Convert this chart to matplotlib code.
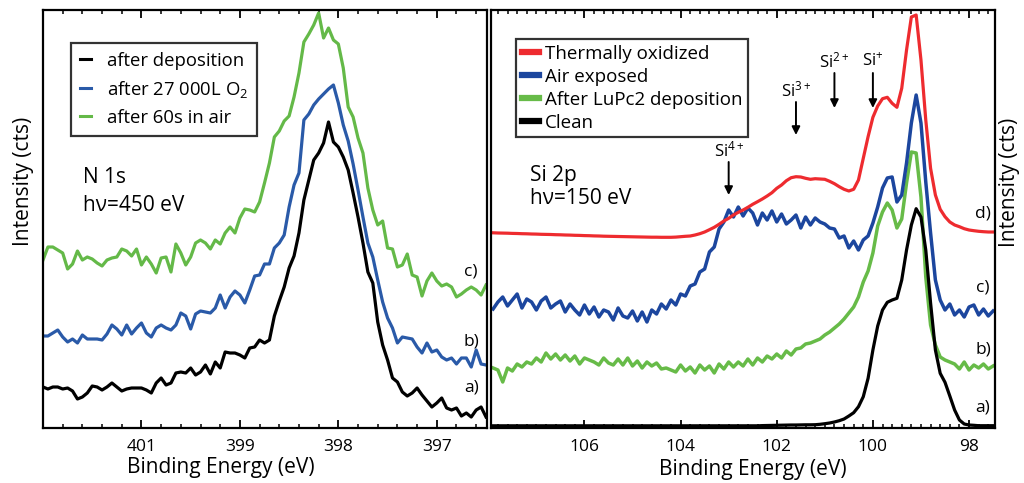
import numpy as np
import matplotlib
matplotlib.use("Agg")
import matplotlib.pyplot as plt
from matplotlib.ticker import MultipleLocator

plt.rcParams['font.family'] = ['Open Sans', 'DejaVu Sans']
plt.rcParams['mathtext.fontset'] = 'custom'
plt.rcParams['mathtext.rm'] = 'Open Sans'
plt.rcParams['mathtext.it'] = 'Open Sans:italic'

# ---- N 1s panel: spectra sampled every 0.05 eV starting at 401.0 eV ----
n1s_start, n1s_step = 401.0, 0.05
n1s_deposition = [41, 39, 41, 41, 39, 40, 37, 29, 31, 35, 42, 41, 38, 41, 45, 41, 37, 39, 40, 40,
                  40, 38, 35, 45, 50, 43, 45, 55, 56, 55, 60, 53, 56, 63, 54, 66, 60, 76, 75, 75,
                  73, 70, 80, 81, 88, 85, 88, 112, 127, 141, 160, 172, 195, 228, 248, 268, 275, 285, 306, 286,
                  281, 271, 258, 235, 211, 185, 156, 145, 106, 83, 68, 50, 46, 36, 32, 35, 40, 33, 27, 21,
                  25, 30, 20, 18, 20, 12, 15, 11, 18, 21, 11]
n1s_o2 = [92, 92, 95, 98, 91, 86, 89, 85, 93, 89, 89, 89, 88, 94, 103, 99, 93, 103, 94, 100,
          105, 95, 91, 100, 103, 100, 98, 103, 115, 112, 99, 114, 117, 116, 115, 120, 133, 120, 131, 137,
          133, 125, 138, 152, 153, 164, 164, 180, 185, 193, 221, 243, 255, 308, 314, 323, 329, 334, 339, 343,
          325, 303, 287, 264, 238, 211, 185, 171, 148, 126, 110, 100, 85, 91, 90, 89, 81, 75, 85, 76,
          78, 71, 68, 70, 64, 70, 70, 61, 78, 64, 63]
n1s_air = [168, 181, 181, 178, 175, 159, 164, 177, 168, 171, 169, 165, 162, 168, 170, 171, 179, 177, 172, 179,
           163, 171, 164, 155, 170, 171, 156, 184, 175, 163, 171, 185, 188, 185, 179, 188, 184, 195, 201, 195,
           210, 219, 218, 216, 226, 245, 265, 291, 297, 307, 312, 331, 355, 386, 394, 403, 415, 390, 400, 388,
           384, 360, 321, 311, 290, 275, 240, 218, 203, 207, 180, 179, 161, 163, 174, 153, 151, 132, 147, 155,
           147, 142, 144, 141, 131, 134, 138, 141, 138, 133, 143]
n1s_ticks = [400, 399, 398, 397]
n1s_ticklabels = ['401', '399', '398', '397']

# ---- Si 2p panel: spectra sampled every 0.1 eV starting at 107.9 eV ----
si_start, si_step = 107.9, 0.1
si_thermal = [195.2, 195.0, 194.9, 194.8, 194.6, 194.5, 194.3, 194.2, 194.0, 193.9, 193.7, 193.6, 193.5, 193.3,
              193.2, 193.0, 192.9, 192.7, 192.6, 192.4, 192.3, 192.1, 192.0, 191.8, 191.7, 191.6, 191.5, 191.4,
              191.3, 191.2, 191.1, 191.0, 190.9, 190.8,
              190.8, 190.7, 190.7, 190.7, 190.9, 191.3, 191.7, 192.0, 193.0, 194.3, 196.0, 198.3, 200.7, 203.7,
              207.0, 209.7, 213.0, 215.7, 218.0, 220.7, 223.7, 226.3, 229.0, 232.0, 235.3, 239.7, 243.0, 247.3,
              250.3, 251.3, 251.0, 249.7, 248.7,
              249.3, 249.0, 248.7, 246.7, 244.3, 241.3, 238.7, 237.0, 238.7, 248.0, 269.7, 291.3, 310.7, 322.0,
              329.3, 330.7, 324.7, 320.7, 339.7, 378.0, 411.0, 413.0, 368.0, 308.0, 259.7, 233.0, 218.7, 211.3,
              206.0, 203.0, 201.3, 199.3, 198.0, 197.3, 196.7, 196.3, 196.0, 196.0]
si_air = [119, 126, 131, 122, 128, 134, 120, 129, 126, 118, 127, 131, 120, 124, 127, 116, 124, 118, 113, 123,
          114, 121, 111, 118, 116, 108, 120, 112, 110, 117, 107, 116, 106, 118,
          114, 124, 119, 128, 123, 134, 132, 142, 144, 156, 159, 176, 181, 199, 206, 218, 211, 221, 212, 220,
          215, 203, 215, 208, 217, 206, 214, 204, 208, 213, 200, 211, 203,
          210, 206, 204, 200, 199, 190, 192, 180, 187, 178, 188, 192, 205, 221, 240, 250, 251, 226, 233, 265,
          305, 333, 305, 246, 195, 148, 128, 118, 124, 113, 118, 111, 121, 123, 113, 119, 112, 117]
si_lupc2 = [60, 58, 46, 60, 57, 64, 61, 66, 64, 70, 66, 75, 69, 74, 68, 73, 67, 72, 64, 70,
            68, 66, 63, 70, 65, 63, 69, 63, 70, 62, 67, 60, 66, 62,
            65, 59, 60, 58, 56, 63, 57, 61, 55, 63, 58, 62, 55, 64, 59, 66, 61, 66, 62, 69,
            63, 70, 66, 72, 69, 74, 70, 77, 73, 79, 80, 84, 85,
            87, 89, 93, 96, 100, 104, 109, 115, 121, 131, 146, 157, 175, 202, 216, 225, 218, 200, 209, 245,
            276, 275, 231, 151, 103, 83, 71, 68, 66, 64, 59, 66, 58, 63, 60, 64, 59, 62]
si_clean = [2.2] * 56 + [2.4, 2.5, 2.6, 2.7, 2.8, 2.9, 3.0, 3.0, 3.1, 3.2, 3.2,
                         3.3, 3.7, 4.3, 5.0, 6.0, 7.3, 9.0, 12.0, 15.3, 21.3, 31.3, 49.7, 78.0, 102.0,
                         118.0, 125.7, 128.0, 129.7, 148.0, 178.0, 203.0, 219.3, 211.0, 178.0, 125.0, 78.0,
                         54.7, 45.7, 32.0, 18.0, 8.0, 4.0, 3.0, 2.7, 2.3, 2.3, 2.3, 2.3]
si_ticks = [106, 104, 102, 100, 98]
si_states = ['Si$^{4+}$', 'Si$^{3+}$', 'Si$^{2+}$', 'Si$^{+}$']
si_state_energy = [103.0, 101.6, 100.8, 100.0]
si_arrow_top = [266, 326, 355, 355]
si_arrow_tip = [233, 293, 320, 320]

black = '#000000'
blue_l = '#2a5aa8'
green_l = '#64b948'
red = '#ee2b2f'
blue_r = '#1c469e'
green_r = '#67bb48'

e_n1s = n1s_start - n1s_step * np.arange(len(n1s_deposition))
e_si = si_start - si_step * np.arange(len(si_thermal))

fig = plt.figure(figsize=(10.24, 4.83), dpi=100)
ax1 = fig.add_axes([43 / 1024, 55 / 483, 444 / 1024, 418 / 483])
ax2 = fig.add_axes([490.7 / 1024, 55 / 483, 504.3 / 1024, 418 / 483])

lw = 2.3
ax1.plot(e_n1s, n1s_air, color=green_l, lw=lw, label='after 60s in air')
ax1.plot(e_n1s, n1s_o2, color=blue_l, lw=lw, label='after 27 000L O$_2$')
ax1.plot(e_n1s, n1s_deposition, color=black, lw=lw, label='after deposition')
ax1.set_xlim(401.0, 396.49)
ax1.set_xticks(n1s_ticks)
ax1.set_xticklabels(n1s_ticklabels)

ax2.plot(e_si, si_lupc2, color=green_r, lw=2.5, label='After LuPc2 deposition')
ax2.plot(e_si, si_air, color=blue_r, lw=2.5, label='Air exposed')
ax2.plot(e_si, si_clean, color=black, lw=lw, label='Clean')
ax2.plot(e_si, si_thermal, color=red, lw=lw, label='Thermally oxidized')
ax2.set_xlim(107.95, 97.46)
ax2.set_xticks(si_ticks)

for ax in (ax1, ax2):
    ax.set_ylim(0, 418)
    ax.set_yticks([])
    ax.xaxis.set_minor_locator(MultipleLocator(0.2))
    ax.tick_params(axis='x', which='major', direction='in', top=True, length=6, width=1.3,
                   labelsize=12.5, pad=8)
    ax.tick_params(axis='x', which='minor', direction='in', top=True, length=3.2, width=1.1)
    for s in ax.spines.values():
        s.set_linewidth(1.6)

# legends
h1, l1 = ax1.get_legend_handles_labels()
order1 = [2, 1, 0]
leg1 = ax1.legend([h1[i] for i in order1], [l1[i] for i in order1], loc='upper left',
                  bbox_to_anchor=(0.062, 0.922), fontsize=13.3, frameon=True, fancybox=False,
                  edgecolor='black', handlelength=0.6, handletextpad=0.85, labelspacing=0.48,
                  borderpad=0.5, borderaxespad=0)
leg1.get_frame().set_linewidth(1.6)
for ln in leg1.get_lines():
    ln.set_linewidth(2.2)

h2, l2 = ax2.get_legend_handles_labels()
order2 = [3, 1, 0, 2]
leg2 = ax2.legend([h2[i] for i in order2], [l2[i] for i in order2], loc='upper left',
                  bbox_to_anchor=(0.051, 0.93), fontsize=13.5, frameon=True, fancybox=False,
                  edgecolor='black', handlelength=0.9, handletextpad=0.3, labelspacing=0.26,
                  borderpad=0.3, borderaxespad=0)
leg2.get_frame().set_linewidth(1.6)
for ln in leg2.get_lines():
    ln.set_linewidth(4.5)

# annotations
ax1.text(0.09, 0.600, 'N 1s', transform=ax1.transAxes, fontsize=15, va='center', ha='left')
ax1.text(0.09, 0.533, 'hν=450 eV', transform=ax1.transAxes, fontsize=15, va='center', ha='left')
ax2.text(0.077, 0.605, 'Si 2p', transform=ax2.transAxes, fontsize=15, va='center', ha='left')
ax2.text(0.077, 0.548, 'hν=150 eV', transform=ax2.transAxes, fontsize=15, va='center', ha='left')

for lab, yy in zip(['c)', 'b)', 'a)'], [156, 86, 41]):
    ax1.text(396.65, yy, lab, fontsize=12.5, ha='center', va='center')
for lab, yy in zip(['d)', 'c)', 'b)', 'a)'], [215, 141, 78, 20]):
    ax2.text(97.71, yy, lab, fontsize=12.5, ha='center', va='center')

for lab, e, top, tip in zip(si_states, si_state_energy, si_arrow_top, si_arrow_tip):
    ax2.annotate('', xy=(e, tip), xytext=(e, top),
                 arrowprops=dict(arrowstyle='-|>', color='black', lw=1.4, mutation_scale=12,
                                 shrinkA=0, shrinkB=0))
    ax2.text(e, top + 12, lab, fontsize=12, ha='center', va='center')

fig.text(23 / 1024, 1 - 181 / 483, 'Intensity (cts)', rotation=90, ha='center', va='center', fontsize=15)
fig.text(1010 / 1024, 1 - 182 / 483, 'Intensity (cts)', rotation=90, ha='center', va='center', fontsize=15)
fig.text(221 / 1024, 1 - 468 / 483, 'Binding Energy (eV)', ha='center', va='center', fontsize=15)
fig.text(753 / 1024, 1 - 470 / 483, 'Binding Energy (eV)', ha='center', va='center', fontsize=15)

fig.savefig('out.png', dpi=100)
